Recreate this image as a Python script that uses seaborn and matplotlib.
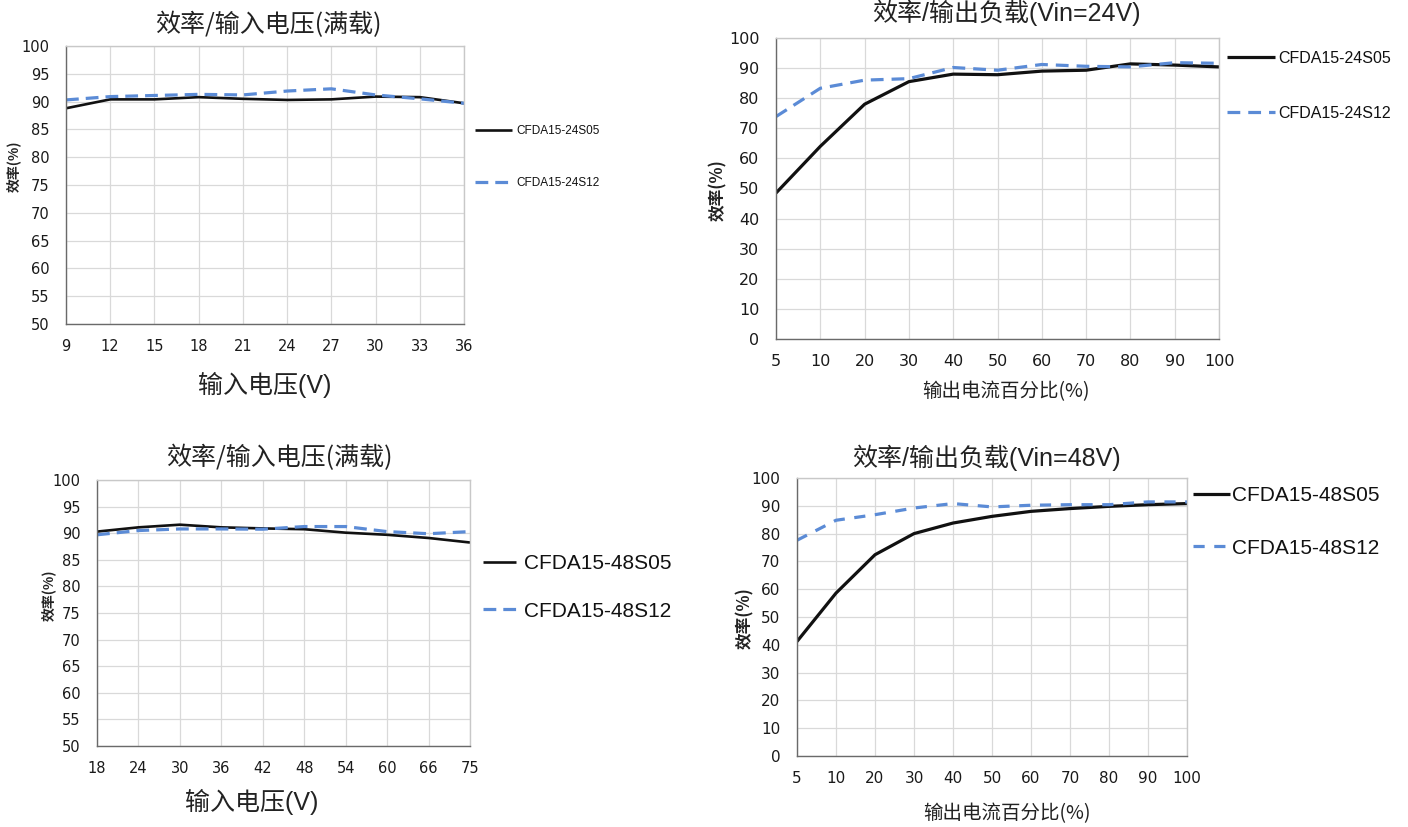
import pandas as pd
import numpy as np
import matplotlib
matplotlib.use("Agg")
import matplotlib.pyplot as plt
import seaborn as sns

# Efficiency vs input voltage (full load), 24V input models
vin_24 = ["9", "12", "15", "18", "21", "24", "27", "30", "33", "36"]
eff_24s05_vin = [88.8, 90.4, 90.4, 90.8, 90.5, 90.3, 90.4, 90.9, 90.8, 89.7]
eff_24s12_vin = [90.3, 90.9, 91.1, 91.3, 91.2, 91.9, 92.3, 91.2, 90.5, 89.7]

# Efficiency vs output load, Vin=24V
load_pct = ["5", "10", "20", "30", "40", "50", "60", "70", "80", "90", "100"]
eff_24s05_load = [48.5, 64.0, 78.0, 85.5, 88.0, 87.8, 89.0, 89.3, 91.4, 91.0, 90.4]
eff_24s12_load = [73.9, 83.3, 86.0, 86.5, 90.2, 89.3, 91.2, 90.6, 90.4, 91.8, 91.6]

# Efficiency vs input voltage (full load), 48V input models
vin_48 = ["18", "24", "30", "36", "42", "48", "54", "60", "66", "75"]
eff_48s05_vin = [90.3, 91.1, 91.6, 91.1, 90.9, 90.75, 90.1, 89.7, 89.1, 88.25]
eff_48s12_vin = [89.7, 90.5, 90.8, 90.8, 90.75, 91.25, 91.25, 90.3, 89.9, 90.3]

# Efficiency vs output load, Vin=48V
eff_48s05_load = [41.2, 58.6, 72.4, 80.0, 83.8, 86.2, 88.0, 89.0, 89.8, 90.4, 90.8]
eff_48s12_load = [77.6, 84.8, 86.8, 89.2, 90.8, 89.6, 90.2, 90.4, 90.4, 91.4, 91.4]

sns.set_theme(style="whitegrid")
plt.rcParams["font.family"] = ["DejaVu Sans", "Noto Sans CJK SC"]

BLACK = "#111111"
BLUE = "#5b8bd6"
CJK = ["Noto Sans CJK SC"]
MIX = ["Liberation Sans", "Noto Sans CJK SC"]

W, H = 1408, 827
fig = plt.figure(figsize=(W / 100, H / 100), dpi=100)


def add_ax(x0, y0, x1, y1):
    return fig.add_axes([x0 / W, (H - y1) / H, (x1 - x0) / W, (y1 - y0) / H])


def draw_panel(ax, cats, s05, s12, names, yticks, title, title_xy, title_font,
               xlabel, xlabel_xy, xlabel_size, xlabel_font, ylabel_xy, ylabel_size,
               tick_size, leg_cfg, lw05, dash):
    df = pd.DataFrame({
        "x": cats * 2,
        "eff": s05 + s12,
        "model": [names[0]] * len(cats) + [names[1]] * len(cats),
    })
    sns.lineplot(data=df, x="x", y="eff", hue="model", style="model",
                 palette=[BLACK, BLUE], dashes=[(1, 0), dash], sort=False,
                 legend=False, ax=ax)
    ax.lines[0].set_linewidth(lw05)
    ax.lines[1].set_linewidth(2.3)
    ax.set_xlim(0, len(cats) - 1)
    ax.set_ylim(yticks[0], yticks[-1])
    ax.set_yticks(yticks)
    ax.grid(True, color="#d9d9d9", linewidth=0.9)
    for side in ["left", "bottom"]:
        ax.spines[side].set_color("#6a6a6a")
        ax.spines[side].set_linewidth(1.0)
    for side in ["top", "right"]:
        ax.spines[side].set_color("#c8c8c8")
        ax.spines[side].set_linewidth(1.0)
    ax.tick_params(axis="x", direction="in", length=4, width=1, color="#6a6a6a",
                   pad=11, labelsize=tick_size, labelcolor="#1a1a1a")
    ax.tick_params(axis="y", direction="in", length=4, width=1, color="#6a6a6a",
                   pad=12, labelsize=tick_size, labelcolor="#1a1a1a")
    ax.set_title(title, x=title_xy[0], y=title_xy[1], pad=0, va="center",
                 fontsize=18, family=title_font, color="#222222")
    ax.set_xlabel(xlabel, fontsize=xlabel_size, family=xlabel_font,
                  va="center", color="#222222")
    ax.xaxis.set_label_coords(*xlabel_xy)
    ax.set_ylabel("效率(%)", fontsize=ylabel_size, family=CJK, weight="bold",
                  va="center", color="#222222")
    ax.yaxis.set_label_coords(*ylabel_xy)
    leg = ax.legend(handles=ax.lines[:2], labels=names, loc="upper left",
                    bbox_to_anchor=leg_cfg["anchor"], frameon=False,
                    borderaxespad=0, borderpad=0,
                    handlelength=leg_cfg["hl"], handletextpad=leg_cfg["tp"],
                    labelspacing=leg_cfg["ls"],
                    prop={"family": "Liberation Sans", "size": leg_cfg["size"]})
    for t in leg.get_texts():
        t.set_color("#111111")


ax1 = add_ax(66, 46, 464, 324)
draw_panel(ax1, vin_24, eff_24s05_vin, eff_24s12_vin,
           ["CFDA15-24S05", "CFDA15-24S12"], list(range(50, 101, 5)),
           "效率/输入电压(满载)", (0.508, 1.076), CJK,
           "输入电压(V)", (0.5, -0.219), 18, MIX, (-0.131, 0.568), 10,
           10.5, {"anchor": (1.028, 0.716), "hl": 3.1, "tp": 0.4, "ls": 3.4, "size": 8.5},
           1.9, (4, 2.2))

ax2 = add_ax(776, 38, 1219, 339)
draw_panel(ax2, load_pct, eff_24s05_load, eff_24s12_load,
           ["CFDA15-24S05", "CFDA15-24S12"], list(range(0, 101, 10)),
           "效率/输出负载(Vin=24V)", (0.52, 1.083), MIX,
           "输出电流百分比(%)", (0.52, -0.176), 14, CJK, (-0.131, 0.495), 12,
           11.5, {"anchor": (1.018, 0.958), "hl": 3.0, "tp": 0.2, "ls": 2.5, "size": 11.5},
           2.3, (4, 2.5))

ax3 = add_ax(97, 480, 470, 746)
draw_panel(ax3, vin_48, eff_48s05_vin, eff_48s12_vin,
           ["CFDA15-48S05", "CFDA15-48S12"], list(range(50, 101, 5)),
           "效率/输入电压(满载)", (0.49, 1.083), CJK,
           "输入电压(V)", (0.416, -0.211), 18, MIX, (-0.131, 0.568), 10,
           10.5, {"anchor": (1.035, 0.72), "hl": 1.6, "tp": 0.38, "ls": 1.35, "size": 15},
           1.9, (4, 2.2))

ax4 = add_ax(797, 478, 1187, 756)
draw_panel(ax4, load_pct, eff_48s05_load, eff_48s12_load,
           ["CFDA15-48S05", "CFDA15-48S12"], list(range(0, 101, 10)),
           "效率/输出负载(Vin=48V)", (0.485, 1.072), MIX,
           "输出电流百分比(%)", (0.538, -0.209), 14, CJK, (-0.133, 0.496), 12,
           11, {"anchor": (1.015, 0.97), "hl": 1.8, "tp": 0.1, "ls": 1.6, "size": 15},
           2.3, (3.5, 3))

fig.savefig("out.png", dpi=100)
